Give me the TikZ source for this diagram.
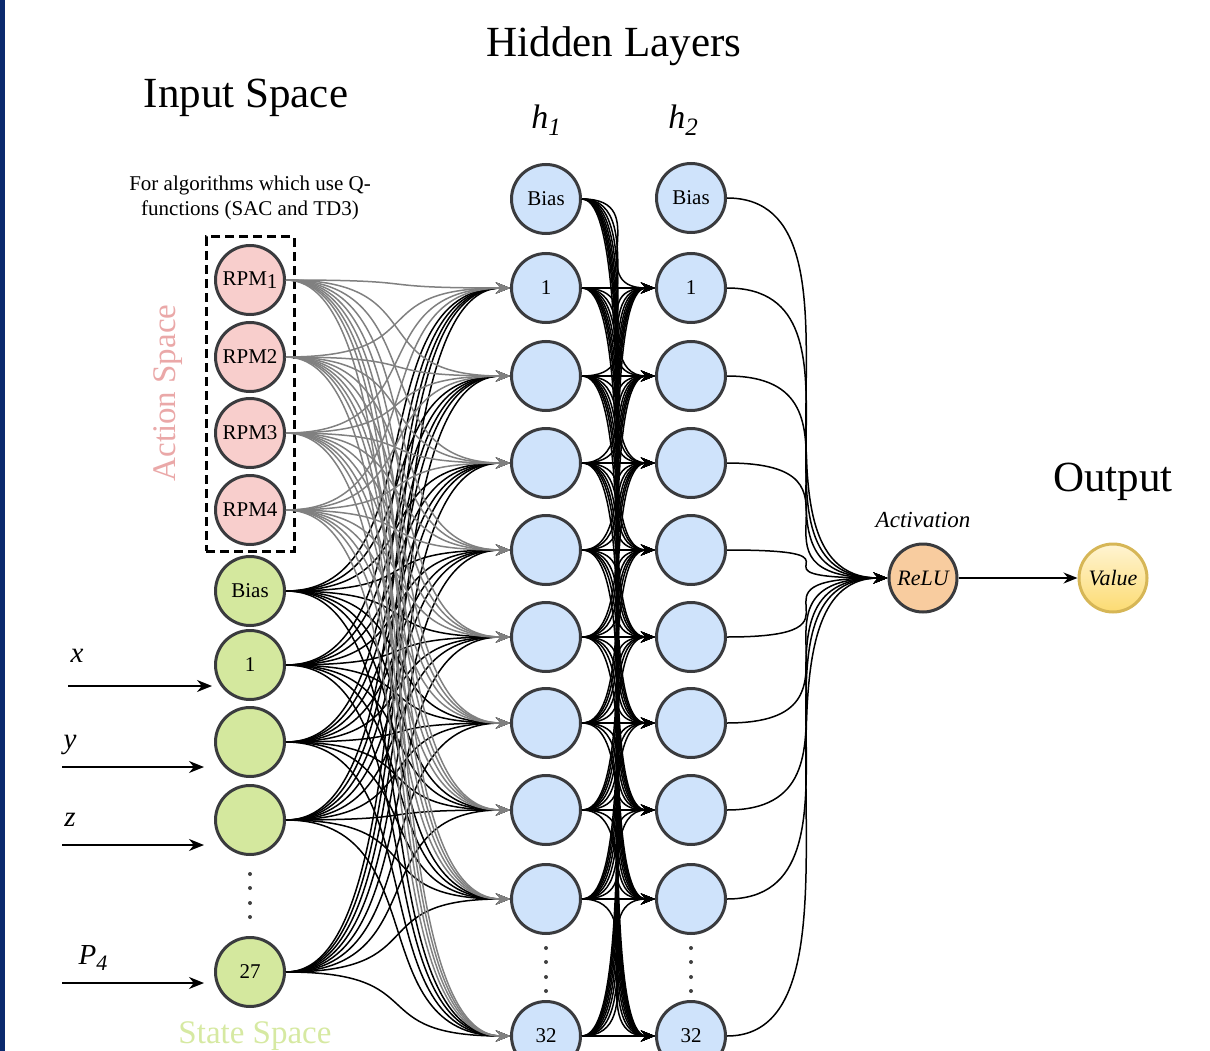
\documentclass[tikz,border=0pt]{standalone}
\usepackage{fontspec}
\setmainfont{Liberation Serif}
\usetikzlibrary{arrows.meta}
\definecolor{nodestroke}{HTML}{3A3B3E}
\definecolor{rpmfill}{HTML}{F8CECC}
\definecolor{statefill}{HTML}{D4E89E}
\definecolor{hidfill}{HTML}{CFE3FB}
\definecolor{relufill}{HTML}{F8CC9F}
\definecolor{valtop}{HTML}{FFF4D2}
\definecolor{valbot}{HTML}{FCDB72}
\definecolor{valstroke}{HTML}{D6B656}
\definecolor{actcolor}{HTML}{EAA8A8}
\definecolor{statecolor}{HTML}{D6E9A2}
\definecolor{edgegray}{HTML}{808080}
\definecolor{barblue}{HTML}{0B2A6E}
\newcommand{\fsz}[1]{\fontsize{#1}{#1}\selectfont}
\begin{document}
\begin{tikzpicture}[x=1pt,y=-1pt,
  neuron/.style={circle, draw=nodestroke, line width=3pt, minimum size=69pt, inner sep=0pt, font=\fsz{21}},
  rpm/.style={neuron, fill=rpmfill, font=\fsz{21}},
  statenode/.style={neuron, fill=statefill},
  hidden/.style={neuron, fill=hidfill},
  blackedge/.style={draw=black, line width=1.5pt, -{Stealth[length=14pt,width=11pt]}},
  grayedge/.style={draw=edgegray, line width=1.5pt, -{Stealth[length=14pt,width=11pt]}},
  outedge/.style={draw=black, line width=1.5pt, -{Stealth[length=14pt,width=11pt]}},
  inarrow/.style={draw=black, line width=1.8pt, -{Stealth[length=15pt,width=12pt]}},
  title/.style={font=\fsz{43}},
  dotmark/.style={fill=black!75},
]
\useasboundingbox (0,0) rectangle (1210,1051);
\clip (0,0) rectangle (1210,1051);
\fill[barblue] (0,0) rectangle (5,1051);

% titles
\node[title] (tin) at (246,98) {Input Space};
\node[title] (thid) at (614,46) {Hidden Layers};
\node[title] (tout) at (1113,482) {Output};
\node[font=\fsz{34}\itshape] (th1) at (546,120) {h\raisebox{-7pt}{\fsz{25}1}};
\node[font=\fsz{34}\itshape] (th2) at (683,120) {h\raisebox{-7pt}{\fsz{25}2}};
\node[font=\fsz{21}, align=center] (tq) at (250,198) {For algorithms which use Q-\\[4pt]functions (SAC and TD3)};
\node[font=\fsz{33}, text=actcolor, rotate=90] (tact) at (168,393) {Action Space};
\node[font=\fsz{33}, text=statecolor] (tstate) at (255,1036) {State Space};
\node[font=\fsz{23}\itshape] (tactv) at (923,520) {Activation};

% action box
\node[draw=black, line width=3pt, dash pattern=on 9pt off 5pt, minimum width=88pt, minimum height=314pt, inner sep=0pt] (abox) at (250,394) {};

% action nodes
\node[rpm] (a1) at (250,280) {RPM\raisebox{-3pt}{1}};
\node[rpm] (a2) at (250,357) {RPM2};
\node[rpm] (a3) at (250,433) {RPM3};
\node[rpm] (a4) at (250,510) {RPM4};

% state nodes
\node[statenode] (sb) at (250,591) {Bias};
\node[statenode] (s1) at (250,665) {1};
\node[statenode] (s2) at (250,742) {};
\node[statenode] (s3) at (250,820) {};
\node[statenode] (s27) at (250,972) {27};
\foreach \yy in {874,888,903,917} \fill[dotmark] (250,\yy) circle (2);

% hidden layer 1
\node[hidden] (pb) at (546,199) {Bias};
\node[hidden] (p1) at (546,288) {1};
\node[hidden] (p2) at (546,376) {};
\node[hidden] (p3) at (546,463) {};
\node[hidden] (p4) at (546,550) {};
\node[hidden] (p5) at (546,637) {};
\node[hidden] (p6) at (546,723) {};
\node[hidden] (p7) at (546,810) {};
\node[hidden] (p8) at (546,899) {};
\node[hidden] (p9) at (546,1036) {32};
\foreach \yy in {948,962,977,991} {\fill[dotmark] (546,\yy) circle (2); \fill[dotmark] (691,\yy) circle (2);}

% hidden layer 2
\node[hidden] (qb) at (691,198) {Bias};
\node[hidden] (q1) at (691,288) {1};
\node[hidden] (q2) at (691,376) {};
\node[hidden] (q3) at (691,463) {};
\node[hidden] (q4) at (691,550) {};
\node[hidden] (q5) at (691,637) {};
\node[hidden] (q6) at (691,723) {};
\node[hidden] (q7) at (691,810) {};
\node[hidden] (q8) at (691,899) {};
\node[hidden] (q9) at (691,1036) {32};

% output
\node[neuron, fill=relufill, minimum size=68pt, font=\fsz{22}\itshape] (relu) at (923,578) {ReLU};
\node[neuron, draw=valstroke, top color=valtop, bottom color=valbot, minimum size=68pt, font=\fsz{22}\itshape] (val) at (1113,578) {Value};

% input arrows
\coordinate (xs) at (68,686); \coordinate (xe) at (212,686);
\coordinate (ys) at (62,767); \coordinate (ye) at (204,767);
\coordinate (zs) at (62,845); \coordinate (ze) at (204,845);
\coordinate (ps) at (62,983); \coordinate (pe) at (204,983);
\draw[inarrow] (xs) -- (xe);
\draw[inarrow] (ys) -- (ye);
\draw[inarrow] (zs) -- (ze);
\draw[inarrow] (ps) -- (pe);
\node[font=\fsz{29}\itshape] (lx) at (77,656) {x};
\node[font=\fsz{29}\itshape] (ly) at (70,745) {y};
\node[font=\fsz{29}\itshape] (lz) at (70,820) {z};
\node[font=\fsz{29}\itshape] (lp) at (93,958) {P\raisebox{-6pt}{\fsz{22}4}};

% input -> h1 edges
\foreach \s in {sb,s1,s2,s3,s27}
  \foreach \t in {1,...,9}
    \draw[blackedge] (\s.east) .. controls +(150,0) and +(-150,0) .. (p\t.west);
\foreach \s in {a1,a2,a3,a4}
  \foreach \t in {1,...,9}
    \draw[grayedge] (\s.east) .. controls +(150,0) and +(-150,0) .. (p\t.west);

% h1 -> h2 edges
\foreach \s in {pb,p1,p2,p3,p4,p5,p6,p7,p8,p9}
  \foreach \t in {1,...,9}
    \draw[blackedge] (\s.east) .. controls +(74,0) and +(-74,0) .. (q\t.west);

% h2 -> relu
\foreach \s in {qb,q1,q2,q3,q4,q5,q6,q7,q8,q9}
  \draw[outedge] (\s.east) .. controls +(160,0) and +(-160,0) .. (relu.west);

\draw[outedge] (relu.east) -- (val.west);
\end{tikzpicture}
\end{document}
